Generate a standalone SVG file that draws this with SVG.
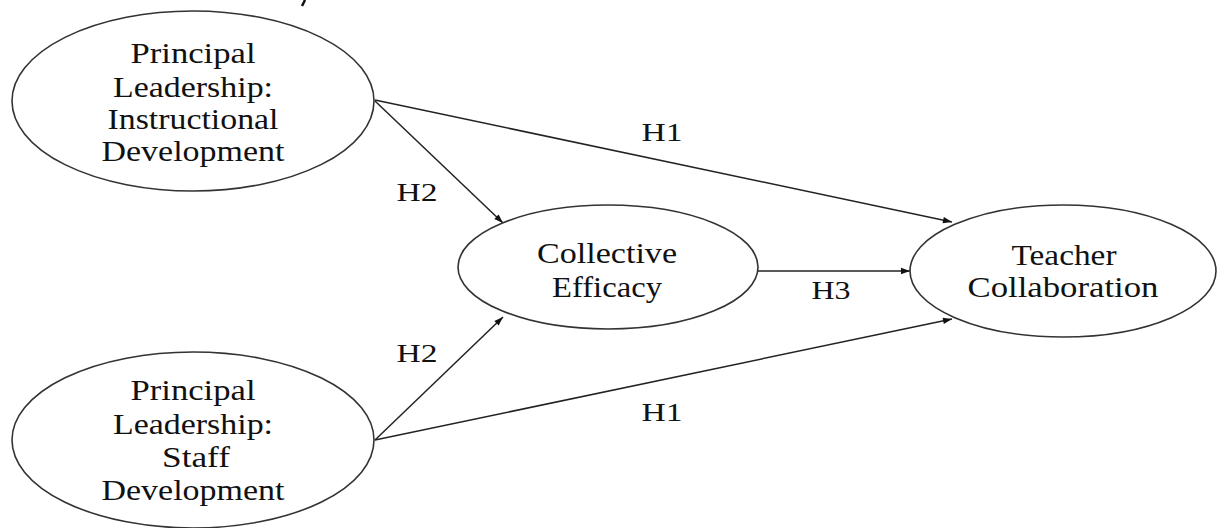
<svg xmlns="http://www.w3.org/2000/svg" width="1217" height="528" viewBox="0 0 1217 528">
<style>
.node ellipse{fill:#fff;stroke:#333;stroke-width:1.6}
text{font-family:"Liberation Serif","Times New Roman",serif;fill:#111;text-anchor:middle}
.nt{font-size:29px}
.lb{font-size:26px}
.edge{stroke:#222;stroke-width:1.5;fill:none;marker-end:url(#ah)}
</style>
<defs>
<marker id="ah" viewBox="0 0 10 10" refX="10" refY="5" markerWidth="10" markerHeight="9" markerUnits="userSpaceOnUse" orient="auto">
<path d="M0,1.5 L10,5 L0,8.5 z" fill="#111"/>
</marker>
</defs>
<rect width="1217" height="528" fill="#fff"/>
<path d="M305,0 L302,6" stroke="#111" stroke-width="2.5"/>
<g id="connectors">
<line class="edge" x1="375" y1="100" x2="952" y2="222"/>
<line class="edge" x1="375" y1="101" x2="503" y2="223"/>
<line class="edge" x1="375" y1="440" x2="503" y2="317"/>
<line class="edge" x1="375" y1="440" x2="952" y2="319"/>
<line class="edge" x1="758" y1="271" x2="910" y2="271"/>
<text class="lb" x="662" y="141" textLength="41" lengthAdjust="spacingAndGlyphs">H1</text>
<text class="lb" x="417" y="201" textLength="41" lengthAdjust="spacingAndGlyphs">H2</text>
<text class="lb" x="417" y="362" textLength="41" lengthAdjust="spacingAndGlyphs">H2</text>
<text class="lb" x="662" y="421" textLength="41" lengthAdjust="spacingAndGlyphs">H1</text>
<text class="lb" x="831" y="299" textLength="39" lengthAdjust="spacingAndGlyphs">H3</text>
</g>
<g id="node-instructional" class="node">
<ellipse cx="193" cy="101" rx="181" ry="90"/>
<text class="nt" x="193" y="63" textLength="125" lengthAdjust="spacingAndGlyphs">Principal</text>
<text class="nt" x="193" y="97" textLength="160" lengthAdjust="spacingAndGlyphs">Leadership:</text>
<text class="nt" x="193" y="129" textLength="171" lengthAdjust="spacingAndGlyphs">Instructional</text>
<text class="nt" x="193" y="161" textLength="183" lengthAdjust="spacingAndGlyphs">Development</text>
</g>
<g id="node-staff" class="node">
<ellipse cx="193" cy="440" rx="181" ry="88"/>
<text class="nt" x="193" y="400" textLength="125" lengthAdjust="spacingAndGlyphs">Principal</text>
<text class="nt" x="193" y="434" textLength="160" lengthAdjust="spacingAndGlyphs">Leadership:</text>
<text class="nt" x="196" y="467" textLength="68" lengthAdjust="spacingAndGlyphs">Staff</text>
<text class="nt" x="193" y="500" textLength="183" lengthAdjust="spacingAndGlyphs">Development</text>
</g>
<g id="node-efficacy" class="node">
<ellipse cx="608" cy="267" rx="150" ry="62"/>
<text class="nt" x="607" y="263" textLength="140" lengthAdjust="spacingAndGlyphs">Collective</text>
<text class="nt" x="607" y="297" textLength="110" lengthAdjust="spacingAndGlyphs">Efficacy</text>
</g>
<g id="node-collab" class="node">
<ellipse cx="1063" cy="271" rx="153" ry="66"/>
<text class="nt" x="1064" y="265" textLength="105" lengthAdjust="spacingAndGlyphs">Teacher</text>
<text class="nt" x="1063" y="297" textLength="191" lengthAdjust="spacingAndGlyphs">Collaboration</text>
</g>
</svg>
